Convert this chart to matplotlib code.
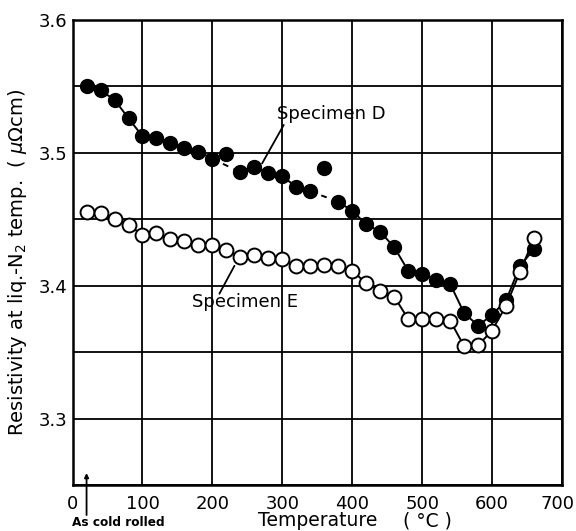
import matplotlib.pyplot as plt
import matplotlib.transforms as mtransforms
import numpy as np

# Annealing temperature (C), first point is the as-cold-rolled state
temps = np.arange(20, 661, 20)

res_d = [3.550, 3.547, 3.540, 3.526, 3.5125, 3.511, 3.5075, 3.504, 3.501, 3.4955,
         3.499, 3.4855, 3.4896, 3.485, 3.4825, 3.4743, 3.471, 3.4888, 3.4633, 3.4563,
         3.4463, 3.4406, 3.429, 3.4113, 3.409, 3.4044, 3.4014, 3.3794, 3.370, 3.378,
         3.389, 3.415, 3.4276]

res_e = [3.4556, 3.4546, 3.4506, 3.4456, 3.4383, 3.4396, 3.435, 3.4333, 3.4306, 3.4306,
         3.427, 3.4213, 3.423, 3.4208, 3.420, 3.415, 3.415, 3.4156, 3.415, 3.4113,
         3.4018, 3.3963, 3.3918, 3.375, 3.375, 3.375, 3.3738, 3.3544, 3.3551, 3.3663,
         3.385, 3.4106, 3.4356]

# specimen D: points left off the line, and where the line is dashed
d_outliers = [220, 360]
d_dashed = [(200, 240), (340, 380)]

fig = plt.figure(figsize=(5.76, 5.31), dpi=100)
ax = fig.add_axes([0.126, 0.0866, 0.8497, 0.8757])

temps_d = np.array(temps)
res_d = np.array(res_d)
keep = ~np.isin(temps_d, d_outliers)
td, rd = temps_d[keep], res_d[keep]

# solid pieces between the dashed gaps
breaks = [0]
for a, b in d_dashed:
    breaks.append(int(np.where(td == a)[0][0]))
    breaks.append(int(np.where(td == b)[0][0]))
breaks.append(len(td) - 1)
for i in range(0, len(breaks), 2):
    s, e = breaks[i], breaks[i + 1]
    ax.plot(td[s:e + 1], rd[s:e + 1], color='black', lw=1.4, zorder=2)
for a, b in d_dashed:
    m = (td >= a) & (td <= b)
    ax.plot(td[m], rd[m], color='black', lw=1.4, ls=(0, (3, 3)), zorder=2)

ax.plot(temps, res_e, color='black', lw=1.4, zorder=2)

ax.plot(temps, res_d, 'o', ms=10, mfc='black', mec='black', zorder=3)
ax.plot(temps, res_e, 'o', ms=10, mfc='white', mec='black', mew=1.4, zorder=3)

ax.set_xlim(0, 700)
ax.set_ylim(3.25, 3.6)
ax.set_xticks(np.arange(0, 701, 100))
ax.set_yticks([3.3, 3.4, 3.5, 3.6])
ax.set_yticks(np.arange(3.25, 3.601, 0.05), minor=True)
ax.grid(True, which='both', color='black', lw=1.3)
ax.set_axisbelow(True)
ax.tick_params(which='both', length=0, labelsize=13)
ax.tick_params(axis='x', pad=7)
ax.tick_params(axis='y', pad=4)
for sp in ax.spines.values():
    sp.set_linewidth(1.8)

# last x tick label sits a little inside, as in the original
lbl = ax.get_xticklabels()[-1]
lbl.set_transform(lbl.get_transform() + mtransforms.ScaledTranslation(-5 / 100, 0, fig.dpi_scale_trans))

ax.set_ylabel(r'Resistivity at liq.-N$_2$ temp.  ( $\mu\Omega$cm)', fontsize=14)
ax.yaxis.set_label_coords(-0.09, 0.48)
ax.set_xlabel('Temperature', fontsize=13.5, va='top')
ax.xaxis.set_label_coords(0.5, -0.056)
ax.text(0.725, -0.056, '( °C )', transform=ax.transAxes, fontsize=13.5, ha='center', va='top')

ax.text(293, 3.529, 'Specimen D', fontsize=13, ha='left', va='center')
ax.annotate('', xy=(271, 3.492), xytext=(302, 3.521),
            arrowprops=dict(arrowstyle='-', color='black', lw=1.3, shrinkA=0, shrinkB=0))
ax.text(171, 3.388, 'Specimen E', fontsize=13, ha='left', va='center')
ax.annotate('', xy=(231.5, 3.415), xytext=(210, 3.394),
            arrowprops=dict(arrowstyle='-', color='black', lw=1.3, shrinkA=0, shrinkB=0))

ax.annotate('', xy=(20, 3.259), xytext=(20, 3.2274),
            arrowprops=dict(arrowstyle='-|>', color='black', lw=1.3, mutation_scale=6,
                            shrinkA=0, shrinkB=0),
            annotation_clip=False)
ax.text(66, 3.222, 'As cold rolled', fontsize=8.7, fontweight='bold', ha='center', va='center')

plt.savefig('out.png', dpi=100)
